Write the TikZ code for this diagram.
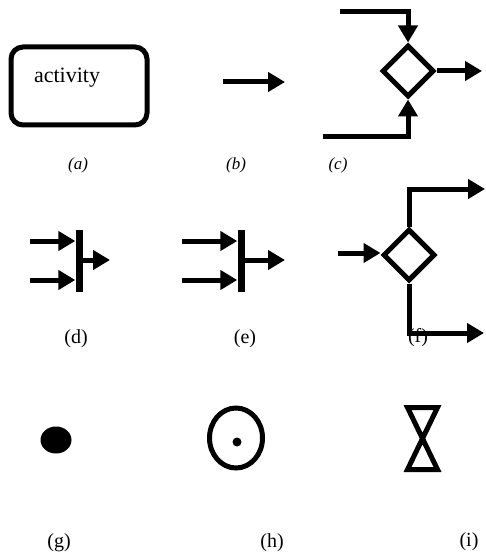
\documentclass[tikz,border=0pt]{standalone}
\usepackage{fontspec}
\setmainfont{Liberation Serif}
\usetikzlibrary{shapes.geometric, arrows.meta, positioning}

\begin{document}
\begin{tikzpicture}[
    x=1pt, y=-1pt,
    act/.style={rectangle, draw, line width=5pt, rounded corners=12pt,
                minimum width=136pt, minimum height=78pt},
    decision/.style={diamond, draw, line width=5pt, inner sep=0pt,
                minimum width=52pt, minimum height=52pt},
    syncbar/.style={rectangle, fill, inner sep=0pt,
                minimum width=7pt, minimum height=62pt},
    flow/.style={line width=5pt, -{Triangle[length=17pt, width=19pt]}},
    plain/.style={line width=5pt},
    figlabel/.style={font=\fontsize{20}{20}\selectfont},
    figlabelit/.style={font=\itshape\fontsize{17}{17}\selectfont},
]
    \useasboundingbox (0,0) rectangle (485,556);

    % (a) activity
    \node[act] (actbox) at (79,86) {};
    \node[font=\fontsize{22}{22}\selectfont] (acttext) at (67,78) {activity};
    \node[figlabelit] (capA) at (78,165) {(a)};

    % (b) flow
    \coordinate (bStart) at (223,82);
    \coordinate (bEnd) at (285,82);
    \draw[flow] (bStart) -- (bEnd);
    \node[figlabelit] (capB) at (236,165) {(b)};

    % (c) merge
    \node[decision] (merge) at (408,71) {};
    \coordinate (mergeIn1) at (340,12);
    \coordinate (mergeIn2) at (323,137);
    \coordinate (mergeOut) at (482,71);
    \draw[flow] (mergeIn1) -| (merge.north);
    \draw[flow] (mergeIn2) -| (merge.south);
    \draw[flow] (merge.east) -- (mergeOut);
    \node[figlabelit] (capC) at (338,165) {(c)};

    % (d) join
    \node[syncbar] (joinBar) at (79,261) {};
    \coordinate (joinIn1) at (30,241);
    \coordinate (joinIn2) at (30,280);
    \coordinate (joinOut) at (110,260);
    \draw[flow] (joinIn1) -- (joinIn1 -| joinBar.west);
    \draw[flow] (joinIn2) -- (joinIn2 -| joinBar.west);
    \draw[flow] (joinOut -| joinBar.east) -- (joinOut);
    \node[figlabel] (capD) at (76,339) {(d)};

    % (e) join
    \node[syncbar] (joinBarB) at (241,261) {};
    \coordinate (joinBIn1) at (182,241);
    \coordinate (joinBIn2) at (182,280);
    \coordinate (joinBOut) at (285,260);
    \draw[flow] (joinBIn1) -- (joinBIn1 -| joinBarB.west);
    \draw[flow] (joinBIn2) -- (joinBIn2 -| joinBarB.west);
    \draw[flow] (joinBOut -| joinBarB.east) -- (joinBOut);
    \node[figlabel] (capE) at (245,339) {(e)};

    % (f) decision
    \node[figlabel] (capF) at (418,338) {(f)};
    \node[decision] (branch) at (409,255) {};
    \coordinate (branchIn) at (338,253);
    \coordinate (branchUp) at (485,189);
    \coordinate (branchDown) at (484,333);
    \draw[flow] (branchIn) -- (branchIn -| branch.west);
    \draw[flow] (branch.north) |- (branchUp);
    \draw[flow] (branch.south) |- (branchDown);

    % (g) initial node
    \node[ellipse, fill, inner sep=0pt, minimum width=31pt, minimum height=27pt] (initial) at (56,440) {};
    \node[figlabel] (capG) at (59,543) {(g)};

    % (h) final node
    \node[ellipse, draw, line width=5pt, inner sep=0pt, minimum width=53pt, minimum height=60pt] (final) at (236,438) {};
    \node[circle, fill, inner sep=0pt, minimum size=9pt] (finalDot) at (237,442) {};
    \node[figlabel] (capH) at (272,543) {(h)};

    % (i) hourglass
    \draw[plain] (407.5,407.5) -- (437.5,407.5) -- (407.5,469.5) -- (437.5,469.5) -- cycle;
    \node[figlabel] (capI) at (469,542) {(i)};
\end{tikzpicture}
\end{document}
